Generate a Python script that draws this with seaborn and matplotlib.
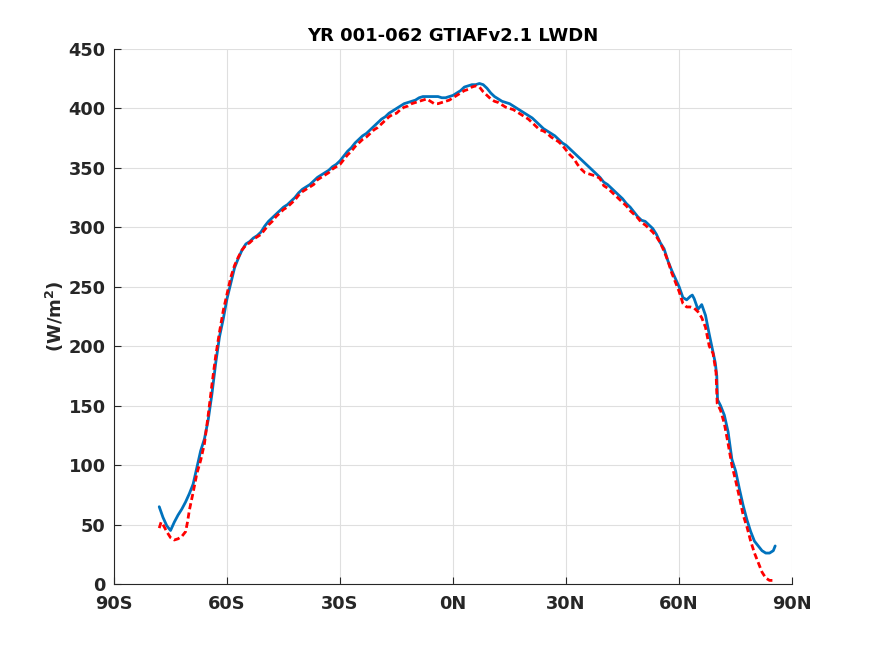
import numpy as np
import pandas as pd
import matplotlib
matplotlib.use("Agg")
import matplotlib.pyplot as plt
import seaborn as sns

title = "YR 001-062 GTIAFv2.1 LWDN"
ylabel = "(W/m$^\\mathbf{2}$)"
xtick_vals = [-90, -60, -30, 0, 30, 60, 90]
xtick_labels = ["90S", "60S", "30S", "0N", "30N", "60N", "90N"]
ytick_vals = [0, 50, 100, 150, 200, 250, 300, 350, 400, 450]

blue_lat = [-78, -77, -76, -75, -74, -73, -72, -71, -70, -69, -68, -67, -66, -65,
            -64, -63, -62, -61, -60, -59, -58, -57, -56, -55, -54, -53, -52, -51,
            -50, -49, -48, -47, -46, -45, -44, -43, -42, -41, -40, -39, -38, -37,
            -36, -35, -34, -33, -32, -31, -30, -29, -28, -27, -26, -25, -24, -23,
            -22, -21, -20, -19, -18, -17, -16, -15, -14, -13, -12, -11, -10, -9,
            -8, -7, -6, -5, -4, -3, -2, -1, 0, 1, 2, 3, 4, 5, 6, 7, 8, 9, 10, 11,
            12, 13, 14, 15, 16, 17, 18, 19, 20, 21, 22, 23, 24, 25, 26, 27, 28, 29,
            30, 31, 32, 33, 34, 35, 36, 37, 38, 39, 40, 41, 42, 43, 44, 45, 46, 47,
            48, 49, 50, 51, 52, 53, 54, 55, 56, 57, 58, 59, 60, 61, 62, 63, 63.5,
            64, 65, 66, 67, 68, 69, 69.6, 70.0, 70.2, 71, 72, 73, 74, 75, 76, 77,
            78, 79, 80, 81, 82, 83, 84, 85, 85.5]
blue_val = [65, 56, 49, 45, 52, 58, 63, 69, 76, 84, 98, 112, 122, 138,
            160, 186, 208, 223, 240, 253, 266, 274, 281, 286, 288, 291, 293, 296,
            301, 305, 308, 311, 314, 317, 319, 322, 325, 329, 332, 334, 336, 339,
            342, 344, 346, 348, 351, 353, 356, 360, 364, 367, 371, 374, 377, 379,
            382, 385, 388, 391, 393, 396, 398, 400, 402, 404, 405, 406, 407, 409,
            410, 410, 410, 410, 410, 409, 409, 410, 411, 413, 415, 418, 419, 420, 420, 421, 420, 417, 413, 410,
            408, 406, 405, 404, 402, 400, 398, 396, 394, 392, 389, 386, 383, 381, 379, 377, 374, 371,
            369, 366, 363, 360, 357, 354, 351, 348, 345, 342, 338, 336, 333, 330, 327, 324, 320, 317,
            313, 309, 306, 305, 302, 299, 294, 287, 282, 272, 264, 257, 250, 241, 239, 242, 243,
            240, 231, 235, 226, 210, 195, 186, 175, 155, 150, 142, 128, 105, 95, 80, 66,
            54, 44, 36, 32, 28, 26, 26, 28, 32]

red_lat = [-78, -77.5, -77, -76, -75, -74, -73, -72, -71, -70.5, -70, -69, -68, -67,
           -66, -65, -64, -63, -62, -61, -60, -59, -58, -57, -56, -55, -54, -53,
           -52, -51, -50, -49, -48, -47, -46, -45, -44, -43, -42, -41, -40, -39,
           -38, -37, -36, -35, -34, -33, -32, -31, -30, -29, -28, -27, -26, -25,
           -24, -23, -22, -21, -20, -19, -18, -17, -16, -15, -14, -13, -12, -11,
           -10, -9, -8, -7, -6, -5, -4, -3, -2, -1, 0, 1, 2, 3, 4, 5, 6, 7, 8, 9,
           10, 11, 12, 13, 14, 15, 16, 17, 18, 19, 20, 21, 22, 23, 24, 25, 26, 27,
           28, 29, 30, 31, 32, 33, 34, 35, 36, 37, 38, 39, 40, 41, 42, 43, 44, 45,
           46, 47, 48, 49, 50, 51, 52, 53, 54, 55, 56, 57, 58, 59, 60, 61, 62, 63,
           64, 65, 66, 67, 68, 69, 69.8, 70.1, 71, 72, 73, 74, 75, 76, 77, 78, 79,
           80, 81, 82, 83, 84, 85]
red_val = [47, 52, 50, 44, 39, 37, 38, 40, 44, 52, 62, 77, 93, 104,
           118, 142, 168, 192, 212, 230, 244, 258, 268, 275, 281, 285, 287, 290,
           292, 294, 298, 302, 305, 309, 312, 315, 317, 320, 323, 327, 330, 332,
           334, 336, 340, 342, 344, 346, 349, 351, 353, 357, 361, 364, 368, 371,
           374, 376, 379, 382, 384, 387, 390, 393, 395, 396, 399, 401, 402, 404,
           405, 406, 407, 408, 406, 404, 404, 405, 406, 407, 409, 411, 413, 415, 416, 418, 419, 418, 414, 411,
           408, 406, 405, 403, 401, 400, 399, 397, 395, 393, 391, 388, 385, 382, 381, 379, 376, 374,
           372, 369, 365, 361, 358, 353, 349, 346, 345, 344, 343, 341, 335, 333, 330, 327, 324, 321,
           318, 314, 311, 308, 304, 302, 299, 296, 292, 287, 280, 272, 262, 254, 246, 236, 233, 233,
           232, 229, 224, 216, 200, 194, 178, 152, 146, 135, 118, 100, 87, 73, 58, 48, 36,
           26, 18, 10, 5, 3, 3]

sns.set_style("white")
plt.rcParams['font.family'] = ['DejaVu Sans']
plt.rcParams['font.weight'] = 'bold'

blue_df = pd.DataFrame({"lat": blue_lat, "val": blue_val})
red_df = pd.DataFrame({"lat": red_lat, "val": red_val})

fig = plt.figure(figsize=(8.75, 6.56), dpi=100)
ax = fig.add_axes([0.1303, 0.1098, 0.775, 0.8155])

sns.lineplot(data=blue_df, x="lat", y="val", ax=ax, color="#0072BD",
             linewidth=2.0, sort=False, estimator=None)
sns.lineplot(data=red_df, x="lat", y="val", ax=ax, color="#FF0000",
             linewidth=2.0, sort=False, estimator=None, dashes=False)
ax.lines[-1].set_dashes([2.2, 1.2])

ax.set_xlim(-90, 90)
ax.set_ylim(0, 450)
ax.set_xticks(xtick_vals)
ax.set_xticklabels(xtick_labels)
ax.set_yticks(ytick_vals)
ax.grid(True, color="#DFDFDF", linewidth=0.8)
ax.set_axisbelow(True)
for s in ["top", "right"]:
    ax.spines[s].set_visible(False)
for s in ["left", "bottom"]:
    ax.spines[s].set_color("#262626")
    ax.spines[s].set_linewidth(0.8)
ax.tick_params(direction="in", length=5, width=0.8, colors="#262626",
               labelsize=12.8, left=True, bottom=True)
ax.tick_params(axis="x", pad=8)
ax.tick_params(axis="y", pad=6)
for lab in ax.get_xticklabels() + ax.get_yticklabels():
    lab.set_fontweight("bold")
ax.set_xlabel("")
ax.set_ylabel(ylabel, fontsize=13, fontweight="bold", color="#262626", labelpad=2)
ax.set_title(title, fontsize=13, fontweight="bold", color="black", pad=6)

fig.savefig("out.png", dpi=100)
